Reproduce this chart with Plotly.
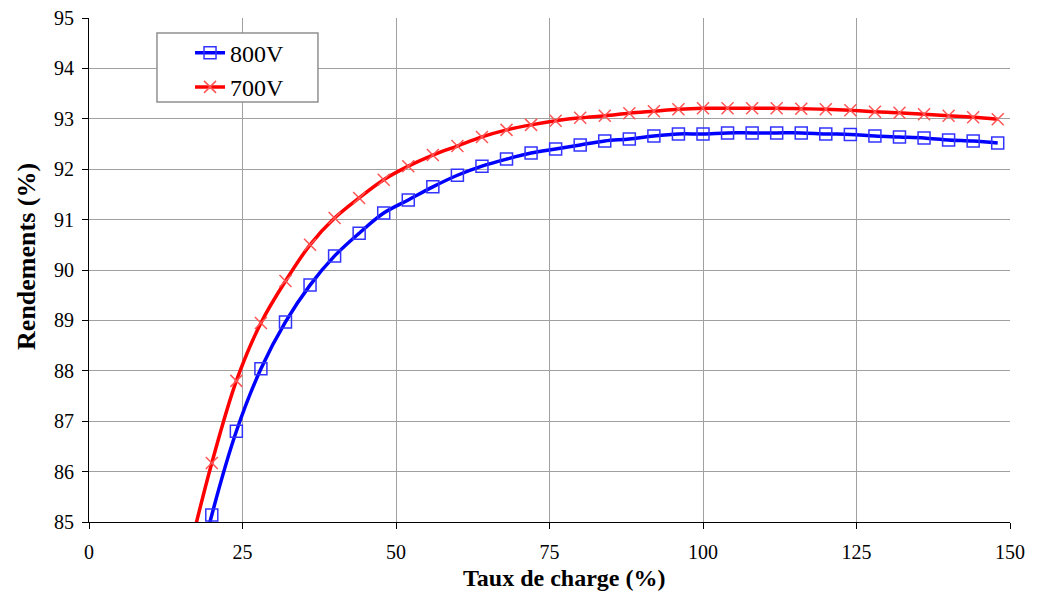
# Rendement vs taux de charge, 800V / 700V
import plotly.graph_objects as go

charge = [16, 20, 24, 28, 32, 36, 40, 44, 48, 52, 56, 60, 64, 68, 72, 76, 80, 84,
          88, 92, 96, 100, 104, 108, 112, 116, 120, 124, 128, 132, 136, 140, 144, 148]

# first point (16%) lies below the visible range; only the curve passes through it
rend_800 = [83.1, 85.14, 86.8, 88.04, 88.97, 89.70, 90.28, 90.73, 91.13, 91.39, 91.65,
            91.88, 92.06, 92.20, 92.32, 92.40, 92.48, 92.56, 92.60, 92.66, 92.70,
            92.70, 92.72, 92.72, 92.72, 92.72, 92.70, 92.69, 92.66, 92.64, 92.62,
            92.58, 92.56, 92.52]
rend_700 = [84.25, 86.17, 87.80, 88.95, 89.78, 90.50, 91.03, 91.43, 91.79, 92.06, 92.28,
            92.46, 92.64, 92.78, 92.88, 92.96, 93.02, 93.06, 93.11, 93.15, 93.19,
            93.21, 93.21, 93.21, 93.21, 93.20, 93.19, 93.17, 93.14, 93.12, 93.09,
            93.06, 93.03, 92.99]

serif = "Liberation Serif"

fig = go.Figure()
fig.add_trace(go.Scatter(x=charge, y=rend_800, name="800V",
                         mode="lines+markers",
                         line=dict(color="#0000FF", width=3.5, shape="spline"),
                         marker=dict(symbol="square-open", size=12, color="#3333FF",
                                     line=dict(width=1.5))))
fig.add_trace(go.Scatter(x=charge, y=rend_700, name="700V",
                         mode="lines+markers",
                         line=dict(color="#FF0000", width=3.5, shape="spline"),
                         marker=dict(symbol="x-thin", size=12, color="#FF5555",
                                     line=dict(width=1.5, color="#FF5555"))))

axis_common = dict(showgrid=True, gridcolor="#A0A0A0", gridwidth=1,
                   showline=True, linecolor="black", linewidth=1,
                   ticks="outside", ticklen=6, tickcolor="black",
                   tickfont=dict(family=serif, size=20, color="black"),
                   ticklabeloverflow="allow",
                   zeroline=False, automargin=False)

fig.update_xaxes(range=[0, 150], tickvals=[0, 25, 50, 75, 100, 125, 150],
                 ticklabelstandoff=6, **axis_common)
fig.update_yaxes(range=[85, 95], dtick=1, ticklabelstandoff=4, **axis_common)

# axis titles (placed like the original, slightly off-centre)
fig.add_annotation(text="<b>Taux de charge (%)</b>", xref="paper", yref="paper",
                   x=0.5157, y=-0.111, xanchor="center", yanchor="middle",
                   showarrow=False, font=dict(family=serif, size=24, color="black"))
fig.add_annotation(text="<b>Rendements (%)</b>", xref="paper", yref="paper",
                   x=-0.0673, y=0.526, xanchor="center", yanchor="middle",
                   textangle=-90, showarrow=False,
                   font=dict(family=serif, size=26, color="black"))

# legend frame
fig.add_shape(type="rect", xref="paper", yref="paper",
              x0=0.0738, x1=0.2486, y0=0.8333, y1=0.9702,
              line=dict(color="#909090", width=1.5), fillcolor="white", layer="above")

# page body adds 8px around the figure; margins compensate
fig.update_layout(
    width=1039, height=594,
    margin=dict(l=81, r=37, t=10, b=80),
    font=dict(family=serif, color="black"),
    plot_bgcolor="white", paper_bgcolor="white",
    legend=dict(x=0.1097, y=0.975, xanchor="left", yanchor="top",
                bgcolor="rgba(0,0,0,0)", borderwidth=0,
                font=dict(family=serif, size=24, color="black"),
                tracegroupgap=0, itemwidth=30),
)

fig.write_html("out.html")
